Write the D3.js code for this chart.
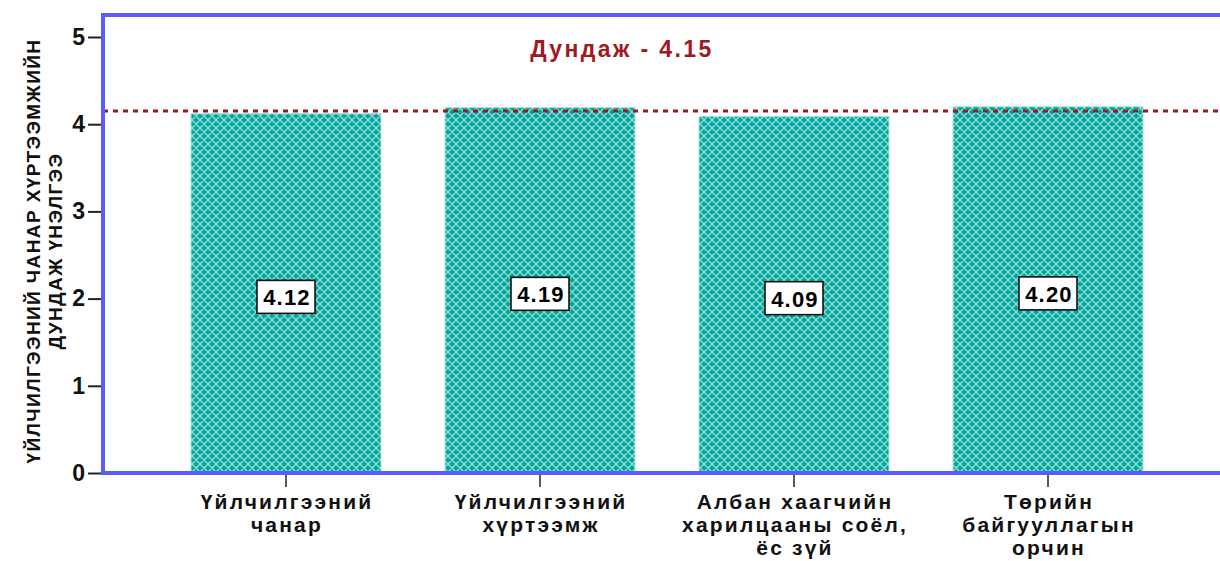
<!DOCTYPE html>
<html>
<head>
<meta charset="utf-8">
<script src="https://cdn.jsdelivr.net/npm/d3@7"></script>
<style>
  html, body { margin: 0; padding: 0; background: #fff; }
  svg { display: block; font-family: "Liberation Sans", Arial, sans-serif; }
</style>
</head>
<body>
<svg id="chart" width="1220" height="561"></svg>
<script>
// Mean service-quality scores per dimension
const categories = [
  ["Үйлчилгээний", "чанар"],
  ["Үйлчилгээний", "хүртээмж"],
  ["Албан хаагчийн", "харилцааны соёл,", "ёс зүй"],
  ["Төрийн", "байгууллагын", "орчин"]
];
const values = [4.12, 4.19, 4.09, 4.20];
const valueLabels = ["4.12", "4.19", "4.09", "4.20"];
const meanValue = 4.15;
const meanLabel = "Дундаж - 4.15";
const yTicks = [0, 1, 2, 3, 4, 5];
const yTitle = ["ҮЙЛЧИЛГЭЭНИЙ ЧАНАР ХҮРТЭЭМЖИЙН", "ДУНДАЖ ҮНЭЛГЭЭ"];

const svg = d3.select("#chart");
const plotLeft = 103, plotTop = 15, plotBottom = 473;

const y = d3.scaleLinear().domain([0, 5]).range([plotBottom, 37]);
const x = d3.scaleBand()
  .domain(d3.range(categories.length))
  .range([159, 1175])
  .paddingInner(0.252)
  .paddingOuter(0.126);

// Cross-hatch fill for the bars
const defs = svg.append("defs");
const pat = defs.append("pattern")
  .attr("id", "hatch")
  .attr("patternUnits", "userSpaceOnUse")
  .attr("width", 8).attr("height", 8);
pat.append("rect").attr("width", 8).attr("height", 8).attr("fill", "#04a39b");
pat.append("path")
  .attr("d", "M-1,-1 L9,9 M-1,7 L1,9 M7,-1 L9,1 M9,-1 L-1,9 M-1,1 L1,-1 M7,9 L9,7")
  .attr("stroke", "#8fe0d8").attr("stroke-width", 1.3).attr("fill", "none");

// Bars
svg.append("g").selectAll("rect")
  .data(values)
  .join("rect")
  .attr("x", (d, i) => x(i))
  .attr("y", d => y(d))
  .attr("width", x.bandwidth())
  .attr("height", d => y(0) - y(d))
  .attr("fill", "url(#hatch)")
  .attr("stroke", "#a8e6e0")
  .attr("stroke-width", 1);

// Mean reference line
svg.append("line")
  .attr("x1", plotLeft).attr("x2", 1220)
  .attr("y1", y(meanValue)).attr("y2", y(meanValue))
  .attr("stroke", "#a0171c")
  .attr("stroke-width", 3)
  .attr("stroke-dasharray", "5,5");

svg.append("text")
  .attr("x", 622).attr("y", 57)
  .attr("text-anchor", "middle")
  .attr("font-size", 23).attr("font-weight", "bold")
  .attr("letter-spacing", 2.4)
  .attr("fill", "#a3181e")
  .text(meanLabel);

// Value labels in boxes
const lab = svg.append("g").selectAll("g")
  .data(values)
  .join("g")
  .attr("transform", (d, i) => `translate(${x(i) + x.bandwidth() / 2},${y(d / 2) + 4})`);
lab.append("rect")
  .attr("x", -29).attr("y", -17)
  .attr("width", 58).attr("height", 33)
  .attr("fill", "#fff").attr("stroke", "#111").attr("stroke-width", 1.6);
lab.append("text")
  .attr("text-anchor", "middle")
  .attr("x", 1)
  .attr("dy", "0.36em")
  .attr("font-size", 22).attr("font-weight", "bold")
  .attr("letter-spacing", 1.2)
  .text((d, i) => valueLabels[i]);

// Y axis
const yAxis = svg.append("g")
  .attr("transform", `translate(${plotLeft - 2},0)`)
  .call(d3.axisLeft(y).tickValues(yTicks).tickFormat(d3.format("d")).tickSize(13).tickPadding(3));
yAxis.select(".domain").remove();
yAxis.selectAll(".tick line").attr("stroke", "#222").attr("stroke-width", 2);
yAxis.selectAll(".tick text")
  .attr("font-size", 23).attr("font-weight", "bold")
  .attr("font-family", "Liberation Sans, Arial, sans-serif")
  .attr("fill", "#111");

// X axis
const xAxis = svg.append("g")
  .attr("transform", `translate(0,${plotBottom + 2})`)
  .call(d3.axisBottom(x).tickSize(12).tickFormat(""));
xAxis.select(".domain").remove();
xAxis.selectAll(".tick line").attr("stroke", "#222").attr("stroke-width", 1.5);

const xl = svg.append("g").selectAll("text")
  .data(categories)
  .join("text")
  .attr("text-anchor", "middle")
  .attr("font-size", 21).attr("font-weight", "bold")
  .attr("letter-spacing", 2.2)
  .attr("fill", "#111")
  .attr("transform", (d, i) => `translate(${x(i) + x.bandwidth() / 2 + 1},509)`);
xl.selectAll("tspan")
  .data(d => d)
  .join("tspan")
  .attr("x", 0)
  .attr("dy", (d, j) => j === 0 ? 0 : 23)
  .text(d => d);

// Frame lines
svg.append("line").attr("x1", plotLeft).attr("x2", plotLeft).attr("y1", plotTop - 2).attr("y2", plotBottom + 2)
  .attr("stroke", "#5a5cfb").attr("stroke-width", 4);
svg.append("line").attr("x1", plotLeft - 2).attr("x2", 1220).attr("y1", plotTop).attr("y2", plotTop)
  .attr("stroke", "#5a5cfb").attr("stroke-width", 4);
svg.append("line").attr("x1", plotLeft - 2).attr("x2", 1220).attr("y1", plotBottom).attr("y2", plotBottom)
  .attr("stroke", "#5a5cfb").attr("stroke-width", 4);

// Y axis title
const yt = svg.append("text")
  .attr("transform", "translate(40,251) rotate(-90)")
  .attr("text-anchor", "middle")
  .attr("font-size", 19).attr("font-weight", "bold")
  .attr("letter-spacing", 1.4)
  .attr("fill", "#111");
yt.selectAll("tspan")
  .data(yTitle)
  .join("tspan")
  .attr("x", 0)
  .attr("dy", (d, j) => j === 0 ? 0 : 22)
  .text(d => d);
</script>
</body>
</html>
